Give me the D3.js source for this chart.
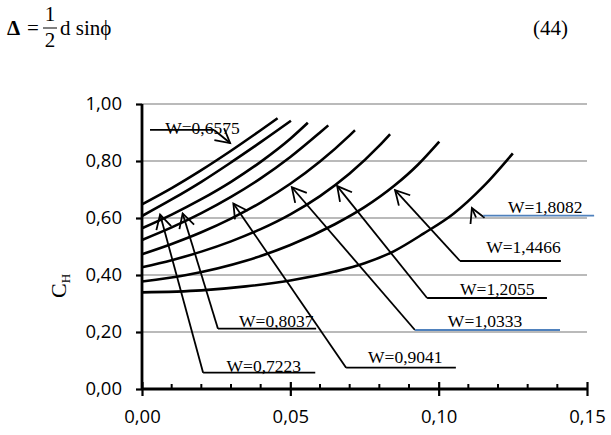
<!DOCTYPE html>
<html>
<head>
<meta charset="utf-8">
<script src="https://cdn.jsdelivr.net/npm/d3@7"></script>
<style>
  body { margin: 0; background: #fff; }
  svg { display: block; }
</style>
</head>
<body>
<div id="chart"></div>
<script>
var svgWidth = 611;
var svgHeight = 435;

var margin = { top: 104, right: 24, bottom: 46, left: 142 };
var width = svgWidth - margin.left - margin.right;
var height = svgHeight - margin.top - margin.bottom;

// curves, top (steepest) to bottom
var curve1 = [[0, 0.648], [0.01, 0.705], [0.02, 0.768], [0.03, 0.836], [0.04, 0.908], [0.0457, 0.95]];
var curve2 = [[0, 0.607], [0.01, 0.665], [0.02, 0.727], [0.03, 0.795], [0.04, 0.866], [0.0502, 0.941]];
var curve3 = [[0, 0.564], [0.01, 0.612], [0.02, 0.666], [0.03, 0.727], [0.04, 0.797], [0.05, 0.878], [0.0559, 0.934]];
var curve4 = [[0, 0.523], [0.01, 0.567], [0.02, 0.617], [0.03, 0.674], [0.04, 0.739], [0.05, 0.814], [0.06, 0.900], [0.0628, 0.925]];
var curve5 = [[0, 0.473], [0.01, 0.509], [0.02, 0.550], [0.03, 0.598], [0.04, 0.654], [0.05, 0.720], [0.06, 0.798], [0.07, 0.890], [0.0718, 0.908]];
var curve6 = [[0, 0.427], [0.01, 0.452], [0.02, 0.482], [0.03, 0.518], [0.04, 0.561], [0.05, 0.613], [0.06, 0.677], [0.07, 0.756], [0.08, 0.854], [0.0836, 0.894]];
var curve7 = [[0, 0.377], [0.015, 0.400], [0.035, 0.450], [0.05, 0.505], [0.065, 0.578], [0.075, 0.638], [0.085, 0.713], [0.093, 0.787], [0.1002, 0.868]];
var curve8 = [[0, 0.339], [0.02, 0.346], [0.035, 0.360], [0.05, 0.381], [0.065, 0.412], [0.075, 0.441], [0.085, 0.484], [0.095, 0.546], [0.105, 0.615], [0.115, 0.71], [0.125, 0.827]];
var curves = [curve1, curve2, curve3, curve4, curve5, curve6, curve7, curve8];

var xTicks = [0, 0.05, 0.10, 0.15];
var xMinorTicks = [0.01, 0.02, 0.03, 0.04, 0.06, 0.07, 0.08, 0.09, 0.11, 0.12, 0.13, 0.14];
var yTicks = [0, 0.2, 0.4, 0.6, 0.8, 1.0];

var wLabels = ["W=0,6575", "W=0,7223", "W=0,8037", "W=0,9041", "W=1,0333", "W=1,2055", "W=1,4466", "W=1,8082"];
// callouts in data units: tip of arrow, arrow foot, underline from/to, text start & baseline
var callouts = [
  { tip: [0.0297, 0.863], foot: [0.0243, 0.909], line: [0.0027, 0.0243, 0.909], text: [0.0078, 0.895], blue: false },
  { tip: [0.0061, 0.612], foot: [0.0206, 0.0572], line: [0.0206, 0.0584, 0.0572], text: [0.0285, 0.059], blue: false },
  { tip: [0.0137, 0.616], foot: [0.0256, 0.2116], line: [0.0256, 0.0587, 0.2116], text: [0.0327, 0.2186], blue: false },
  { tip: [0.0308, 0.651], foot: [0.0688, 0.0747], line: [0.0688, 0.1058, 0.0747], text: [0.0762, 0.0902], blue: false },
  { tip: [0.0505, 0.708], foot: [0.0920, 0.2070], line: [0.0920, 0.1409, 0.2070], text: [0.1031, 0.2165], blue: true },
  { tip: [0.0658, 0.712], foot: [0.0961, 0.3193], line: [0.0961, 0.1365, 0.3193], text: [0.1072, 0.3298], blue: false },
  { tip: [0.0853, 0.698], foot: [0.1072, 0.4491], line: [0.1072, 0.1412, 0.4491], text: [0.1160, 0.4772], blue: false },
  { tip: [0.1112, 0.635], foot: [0.1126, 0.6018], line: [0.1150, 0.1524, 0.6081], text: [0.1234, 0.6165], blue: true }
];

var svg = d3.select("#chart")
    .append("svg")
    .attr("width", svgWidth)
    .attr("height", svgHeight);

// equation above the chart
var eq = svg.append("g")
    .attr("font-family", "'Liberation Serif', 'Times New Roman', serif")
    .attr("font-size", 21)
    .attr("fill", "#000");
eq.append("text").attr("x", 7).attr("y", 35).attr("font-weight", "bold").text("Δ");
eq.append("text").attr("x", 27).attr("y", 35).text("=");
eq.append("text").attr("x", 50).attr("y", 21).attr("text-anchor", "middle").text("1");
eq.append("line").attr("x1", 43).attr("x2", 57).attr("y1", 28).attr("y2", 28)
    .attr("stroke", "#000").attr("stroke-width", 1);
eq.append("text").attr("x", 50).attr("y", 47).attr("text-anchor", "middle").text("2");
eq.append("text").attr("x", 60).attr("y", 35).text("d sinϕ");
eq.append("text").attr("x", 568).attr("y", 35).attr("text-anchor", "end").text("(44)");

var chartGroup = svg.append("g")
    .attr("transform", `translate(${margin.left}, ${margin.top})`);

var xScale = d3.scaleLinear().domain([0, 0.15]).range([0, width]);
var yScale = d3.scaleLinear().domain([0, 1]).range([height, 0]);

var fmt = d => d3.format(".2f")(d).replace(".", ",");

// gridlines
chartGroup.append("g")
    .selectAll("line")
    .data(yTicks.filter(d => d > 0))
    .enter()
    .append("line")
    .attr("x1", 0)
    .attr("x2", width)
    .attr("y1", d => yScale(d))
    .attr("y2", d => yScale(d))
    .attr("stroke", "#a3a3a3")
    .attr("stroke-width", 1.5);

// curves
var line = d3.line()
    .x(d => xScale(d[0]))
    .y(d => yScale(d[1]))
    .curve(d3.curveMonotoneX);

chartGroup.append("g")
    .selectAll("path")
    .data(curves)
    .enter()
    .append("path")
    .attr("d", line)
    .attr("fill", "none")
    .attr("stroke", "#000")
    .attr("stroke-width", 2.6);

// axes
var tickFont = "'Open Sans', 'Liberation Sans', sans-serif";

var leftAxis = d3.axisLeft(yScale).tickValues(yTicks).tickFormat(fmt).tickSize(6).tickPadding(14);
var yAxis = chartGroup.append("g").call(leftAxis);

var bottomAxis = d3.axisBottom(xScale).tickValues(xTicks).tickFormat(fmt).tickSize(7).tickPadding(14);
var xAxis = chartGroup.append("g")
    .attr("transform", `translate(0, ${height})`)
    .call(bottomAxis);

// major x ticks cross the axis
xAxis.selectAll(".tick line").attr("y1", -7);

chartGroup.append("g")
    .attr("transform", `translate(0, ${height})`)
    .selectAll("line")
    .data(xMinorTicks)
    .enter()
    .append("line")
    .attr("x1", d => xScale(d))
    .attr("x2", d => xScale(d))
    .attr("y1", -5)
    .attr("y2", 0)
    .attr("stroke", "#000")
    .attr("stroke-width", 2);

[xAxis, yAxis].forEach(function(ax) {
    ax.select(".domain").attr("stroke", "#000").attr("stroke-width", 2.8);
    ax.selectAll(".tick line").attr("stroke", "#000").attr("stroke-width", 2.2);
    ax.selectAll(".tick text")
        .attr("font-family", tickFont)
        .attr("font-size", 18.5)
        .attr("fill", "#000");
});
xAxis.select(".domain").attr("d", `M0,0H${width}`);
yAxis.select(".domain").attr("d", `M0,0V${height}`);

// y axis title
svg.append("text")
    .attr("transform", "translate(66, 298) rotate(-90)")
    .attr("font-family", "'Liberation Serif', 'Times New Roman', serif")
    .attr("font-size", 22)
    .attr("fill", "#000")
    .text("C")
    .append("tspan")
    .attr("font-size", 13)
    .attr("dy", 4)
    .text("H");

// callouts
var callG = chartGroup.append("g");
callouts.forEach(function(c, i) {
    var tx = xScale(c.tip[0]), ty = yScale(c.tip[1]);
    var fx = xScale(c.foot[0]), fy = yScale(c.foot[1]);
    callG.append("line")
        .attr("x1", fx).attr("y1", fy).attr("x2", tx).attr("y2", ty)
        .attr("stroke", "#000").attr("stroke-width", 1.8);
    var ang = Math.atan2(fy - ty, fx - tx);
    var len = 16, spread = 0.5;
    var p = d3.path();
    p.moveTo(tx + len * Math.cos(ang - spread), ty + len * Math.sin(ang - spread));
    p.lineTo(tx, ty);
    p.lineTo(tx + len * Math.cos(ang + spread), ty + len * Math.sin(ang + spread));
    callG.append("path")
        .attr("d", p.toString())
        .attr("fill", "none")
        .attr("stroke", "#000")
        .attr("stroke-width", 1.8);
    callG.append("line")
        .attr("x1", xScale(c.line[0])).attr("x2", xScale(c.line[1]))
        .attr("y1", yScale(c.line[2])).attr("y2", yScale(c.line[2]))
        .attr("stroke", c.blue ? "#4f81bd" : "#000")
        .attr("stroke-width", 1.8);
    callG.append("text")
        .attr("x", xScale(c.text[0]))
        .attr("y", yScale(c.text[1]))
        .attr("font-family", "'Liberation Serif', 'Times New Roman', serif")
        .attr("font-size", 17.5)
        .attr("fill", "#000")
        .text(wLabels[i]);
});
</script>
</body>
</html>
